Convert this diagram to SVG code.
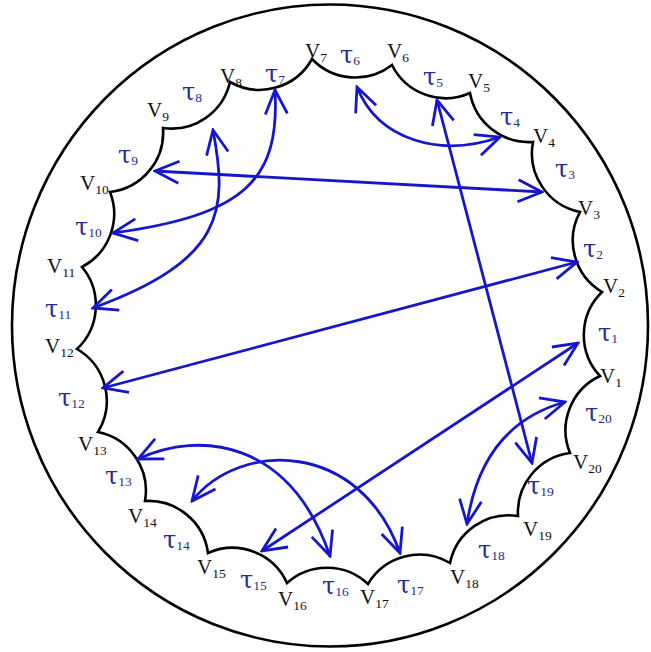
<svg xmlns="http://www.w3.org/2000/svg" width="651" height="652" viewBox="0 0 651 652">
<style>
.v{font-family:"Liberation Serif",serif;font-size:21px;fill:#111}
.t{font-family:"DejaVu Serif",serif;font-size:24px;fill:#2b2b92}
.s{font-family:"Liberation Serif",serif;font-size:13.5px}
.bd{fill:none;stroke:#000;stroke-width:2.6}
.ar{fill:none;stroke:#1616cc;stroke-width:2.8;marker-start:url(#ah);marker-end:url(#ah)}
</style>
<defs>
<marker id="ah" viewBox="-28 -14 30 28" refX="0" refY="0" markerWidth="30" markerHeight="28" markerUnits="userSpaceOnUse" orient="auto-start-reverse">
<path d="M-24,-11 L0,0 L-24,11" fill="none" stroke="#1616cc" stroke-width="2.8"/>
</marker>
</defs>
<rect width="651" height="652" fill="#fff"/>
<g id="outer"><ellipse class="bd" cx="330" cy="325.5" rx="318" ry="321"/></g>
<g id="boundary">
<path class="bd" d="M600,376 A60,60 0 0 1 602,292 A60,60 0 0 1 580,212 A60,60 0 0 1 533,142 A60,60 0 0 1 470,93 A60,60 0 0 1 392,65 A60,60 0 0 1 312,59 A60,60 0 0 1 230,82 A60,60 0 0 1 163,128 A60,60 0 0 1 110,192 A60,60 0 0 1 82,267 A60,60 0 0 1 77,349 A60,60 0 0 1 98,432 A60,60 0 0 1 145,501 A60,60 0 0 1 208,553 A60,60 0 0 1 287,583 A60,60 0 0 1 368,584 A60,60 0 0 1 450,563 A60,60 0 0 1 518,516 A60,60 0 0 1 570,453 A60,60 0 0 1 600,376 Z"/>
</g>
<g id="vertex-labels">
<text class="v" x="600" y="383">V<tspan class="s" dy="4">1</tspan></text>
<text class="v" x="603" y="293">V<tspan class="s" dy="4">2</tspan></text>
<text class="v" x="578" y="215">V<tspan class="s" dy="4">3</tspan></text>
<text class="v" x="533" y="143">V<tspan class="s" dy="4">4</tspan></text>
<text class="v" x="468" y="88">V<tspan class="s" dy="4">5</tspan></text>
<text class="v" x="387" y="58">V<tspan class="s" dy="4">6</tspan></text>
<text class="v" x="305" y="58">V<tspan class="s" dy="4">7</tspan></text>
<text class="v" x="220" y="83">V<tspan class="s" dy="4">8</tspan></text>
<text class="v" x="147" y="117">V<tspan class="s" dy="4">9</tspan></text>
<text class="v" x="80" y="190">V<tspan class="s" dy="4">10</tspan></text>
<text class="v" x="47" y="273">V<tspan class="s" dy="4">11</tspan></text>
<text class="v" x="45" y="353">V<tspan class="s" dy="4">12</tspan></text>
<text class="v" x="78" y="451">V<tspan class="s" dy="4">13</tspan></text>
<text class="v" x="128" y="523">V<tspan class="s" dy="4">14</tspan></text>
<text class="v" x="197" y="574">V<tspan class="s" dy="4">15</tspan></text>
<text class="v" x="278" y="606">V<tspan class="s" dy="4">16</tspan></text>
<text class="v" x="360" y="604">V<tspan class="s" dy="4">17</tspan></text>
<text class="v" x="450" y="584">V<tspan class="s" dy="4">18</tspan></text>
<text class="v" x="523" y="536">V<tspan class="s" dy="4">19</tspan></text>
<text class="v" x="573" y="469">V<tspan class="s" dy="4">20</tspan></text>
</g>
<g id="tau-labels">
<text class="t" x="598" y="341">τ<tspan class="s" dy="2">1</tspan></text>
<text class="t" x="583" y="257">τ<tspan class="s" dy="2">2</tspan></text>
<text class="t" x="555" y="177">τ<tspan class="s" dy="2">3</tspan></text>
<text class="t" x="500" y="125">τ<tspan class="s" dy="2">4</tspan></text>
<text class="t" x="423" y="85">τ<tspan class="s" dy="2">5</tspan></text>
<text class="t" x="340" y="63">τ<tspan class="s" dy="2">6</tspan></text>
<text class="t" x="265" y="82">τ<tspan class="s" dy="2">7</tspan></text>
<text class="t" x="182" y="100">τ<tspan class="s" dy="2">8</tspan></text>
<text class="t" x="118" y="163">τ<tspan class="s" dy="2">9</tspan></text>
<text class="t" x="75" y="235">τ<tspan class="s" dy="2">10</tspan></text>
<text class="t" x="45" y="317">τ<tspan class="s" dy="2">11</tspan></text>
<text class="t" x="58" y="406">τ<tspan class="s" dy="2">12</tspan></text>
<text class="t" x="105" y="484">τ<tspan class="s" dy="2">13</tspan></text>
<text class="t" x="163" y="548">τ<tspan class="s" dy="2">14</tspan></text>
<text class="t" x="240" y="588">τ<tspan class="s" dy="2">15</tspan></text>
<text class="t" x="322" y="594">τ<tspan class="s" dy="2">16</tspan></text>
<text class="t" x="397" y="593">τ<tspan class="s" dy="2">17</tspan></text>
<text class="t" x="478" y="558">τ<tspan class="s" dy="2">18</tspan></text>
<text class="t" x="527" y="494">τ<tspan class="s" dy="2">19</tspan></text>
<text class="t" x="585" y="421">τ<tspan class="s" dy="2">20</tspan></text>
</g>
<g id="connectors">
<path class="ar" d="M155,171 L542,192"/>
<path class="ar" d="M103,388 L577,262"/>
<path class="ar" d="M437,100 L532,463"/>
<path class="ar" d="M578,343 L262,551"/>
<path class="ar" d="M357,87 C378,140 440,158 500,137"/>
<path class="ar" d="M213,130 C228,210 225,260 93,308"/>
<path class="ar" d="M275,90 C280,180 245,215 113,233"/>
<path class="ar" d="M138,459 C200,430 290,440 330,556"/>
<path class="ar" d="M192,501 C240,440 360,440 400,553"/>
<path class="ar" d="M467,524 C475,470 500,420 565,402"/>
</g>
</svg>
